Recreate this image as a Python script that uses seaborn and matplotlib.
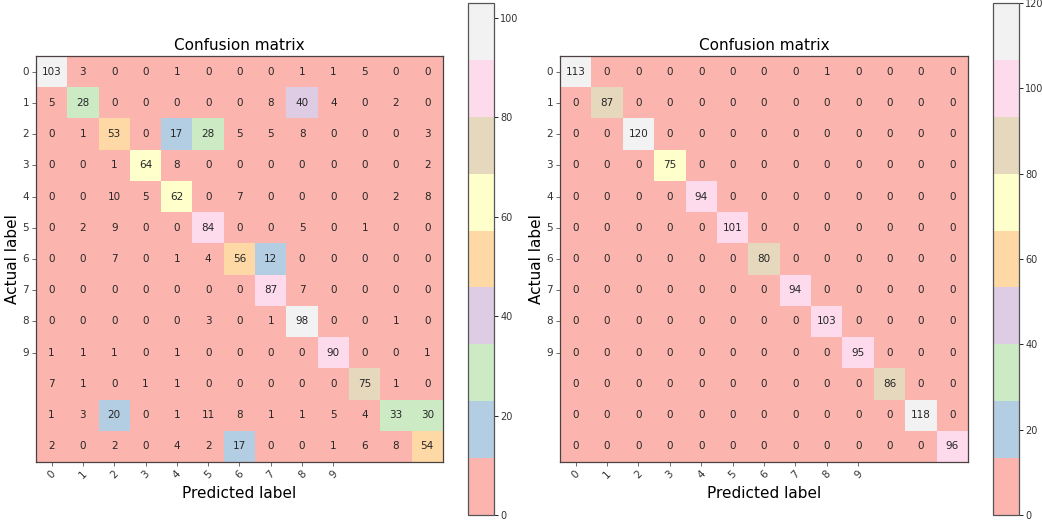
import numpy as np
import matplotlib
matplotlib.use('Agg')
import matplotlib.pyplot as plt
import seaborn as sns

# tick labels (only the first ten classes are labelled)
tick_labels = ['0', '1', '2', '3', '4', '5', '6', '7', '8', '9']

# left confusion matrix (actual x predicted)
cm_left = [
    [103, 3, 0, 0, 1, 0, 0, 0, 1, 1, 5, 0, 0],
    [5, 28, 0, 0, 0, 0, 0, 8, 40, 4, 0, 2, 0],
    [0, 1, 53, 0, 17, 28, 5, 5, 8, 0, 0, 0, 3],
    [0, 0, 1, 64, 8, 0, 0, 0, 0, 0, 0, 0, 2],
    [0, 0, 10, 5, 62, 0, 7, 0, 0, 0, 0, 2, 8],
    [0, 2, 9, 0, 0, 84, 0, 0, 5, 0, 1, 0, 0],
    [0, 0, 7, 0, 1, 4, 56, 12, 0, 0, 0, 0, 0],
    [0, 0, 0, 0, 0, 0, 0, 87, 7, 0, 0, 0, 0],
    [0, 0, 0, 0, 0, 3, 0, 1, 98, 0, 0, 1, 0],
    [1, 1, 1, 0, 1, 0, 0, 0, 0, 90, 0, 0, 1],
    [7, 1, 0, 1, 1, 0, 0, 0, 0, 0, 75, 1, 0],
    [1, 3, 20, 0, 1, 11, 8, 1, 1, 5, 4, 33, 30],
    [2, 0, 2, 0, 4, 2, 17, 0, 0, 1, 6, 8, 54],
]

# right confusion matrix
cm_right = [
    [113, 0, 0, 0, 0, 0, 0, 0, 1, 0, 0, 0, 0],
    [0, 87, 0, 0, 0, 0, 0, 0, 0, 0, 0, 0, 0],
    [0, 0, 120, 0, 0, 0, 0, 0, 0, 0, 0, 0, 0],
    [0, 0, 0, 75, 0, 0, 0, 0, 0, 0, 0, 0, 0],
    [0, 0, 0, 0, 94, 0, 0, 0, 0, 0, 0, 0, 0],
    [0, 0, 0, 0, 0, 101, 0, 0, 0, 0, 0, 0, 0],
    [0, 0, 0, 0, 0, 0, 80, 0, 0, 0, 0, 0, 0],
    [0, 0, 0, 0, 0, 0, 0, 94, 0, 0, 0, 0, 0],
    [0, 0, 0, 0, 0, 0, 0, 0, 103, 0, 0, 0, 0],
    [0, 0, 0, 0, 0, 0, 0, 0, 0, 95, 0, 0, 0],
    [0, 0, 0, 0, 0, 0, 0, 0, 0, 0, 86, 0, 0],
    [0, 0, 0, 0, 0, 0, 0, 0, 0, 0, 0, 118, 0],
    [0, 0, 0, 0, 0, 0, 0, 0, 0, 0, 0, 0, 96],
]

fig = plt.figure(figsize=(10.42, 5.21), dpi=100)


def draw_cm(cm, ax_rect, cbar_rect):
    ax = fig.add_axes(ax_rect)
    cax = fig.add_axes(cbar_rect)
    cm = np.array(cm)
    sns.heatmap(cm, ax=ax, cbar_ax=cax, cmap='Pastel1', vmin=0, vmax=cm.max(),
                annot=True, fmt='d', annot_kws={'fontsize': 7.5, 'color': '#262626'})
    # bring back the frame seaborn removes
    for s in ax.spines.values():
        s.set_visible(True)
        s.set_linewidth(0.9)
        s.set_color('#4d4040')
    pos = np.arange(len(tick_labels)) + 0.5
    ax.set_xticks(pos)
    ax.set_xticklabels(tick_labels, rotation=45, fontsize=7.5, color='#333333')
    ax.set_yticks(pos)
    ax.set_yticklabels(tick_labels, rotation=0, fontsize=7.5, color='#333333')
    ax.tick_params(length=3, width=0.6, color='#555555', pad=2)
    ax.set_title('Confusion matrix', fontsize=11, pad=4)
    ax.set_xlabel('Predicted label', fontsize=11)
    ax.set_ylabel('Actual label', fontsize=11, labelpad=2)
    cb = ax.collections[0].colorbar
    cb.outline.set_linewidth(0.9)
    cb.outline.set_edgecolor('#555555')
    cax.tick_params(labelsize=7, length=3, width=0.6, pad=1.5, labelcolor='#333333')
    return ax


draw_cm(cm_left, [0.0345, 0.1132, 0.3906, 0.7793], [0.4491, 0.0115, 0.025, 0.9827])
draw_cm(cm_right, [0.5374, 0.1132, 0.3916, 0.7793], [0.953, 0.0115, 0.025, 0.9827])

fig.savefig('out.png', dpi=100)
